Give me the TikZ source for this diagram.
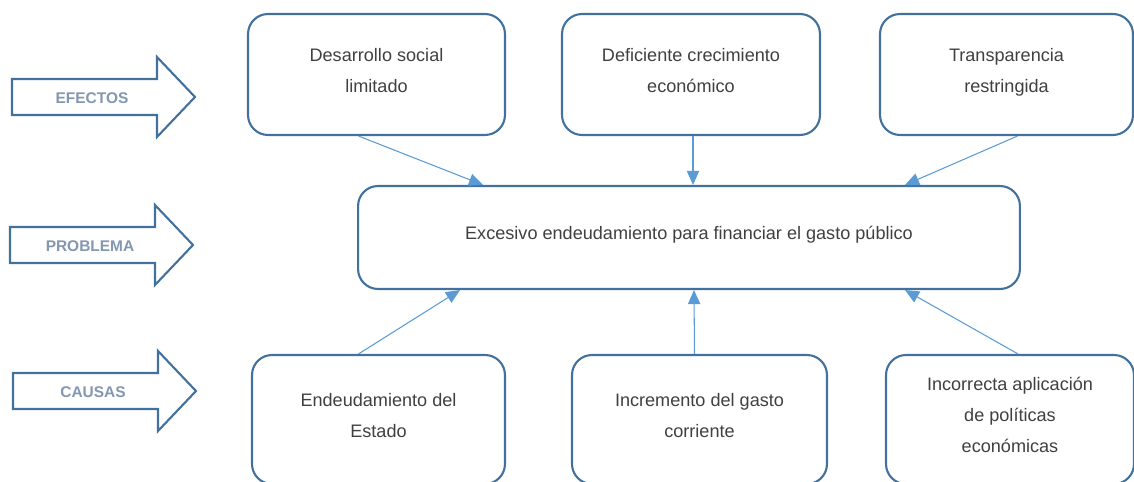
\documentclass[tikz,border=0pt]{standalone}
\usepackage{fontspec}
\setmainfont{Liberation Sans}
\usetikzlibrary{calc}
\usetikzlibrary{arrows.meta}
\definecolor{borde}{HTML}{41719C}
\definecolor{linea}{HTML}{5B9BD5}
\definecolor{texto}{HTML}{404040}
\definecolor{rotulo}{HTML}{8497B0}

\begin{document}
\begin{tikzpicture}[x=0.02cm,y=-0.02cm,
    caja/.style={draw=borde,line width=1.2pt,rounded corners=0.4cm,align=center,
      text=texto,font=\fontsize{10.3}{17.6}\selectfont,inner sep=0pt,text depth=5pt},
    conn/.style={draw=linea,line width=0.6pt,-{Triangle[length=8pt,width=7pt]}},
    flecha/.style={draw=borde,line width=1.2pt,fill=white,line join=miter},
    etiqueta/.style={text=rotulo,font=\fontsize{8.8}{10}\selectfont\bfseries}]
      \useasboundingbox (0,0) rectangle (1134,482);
      % efectos
      \node[caja,minimum width=5.14cm,minimum height=2.42cm] (efe1) at (376.5,74.5) {Desarrollo social\\limitado};
      \node[caja,minimum width=5.16cm,minimum height=2.42cm] (efe2) at (691,74.5) {Deficiente crecimiento\\econ\'omico};
      \node[caja,minimum width=5.06cm,minimum height=2.42cm] (efe3) at (1006.5,74.5) {Transparencia\\restringida};
      % problema
      \node[caja,minimum width=13.24cm,minimum height=2.06cm] (prob) at (689,237.5) {Excesivo endeudamiento para financiar el gasto p\'ublico};
      % causas
      \node[caja,minimum width=5.06cm,minimum height=2.58cm] (cau1) at (378.5,419.5) {Endeudamiento del\\Estado};
      \node[caja,minimum width=5.1cm,minimum height=2.58cm] (cau2) at (699.5,419.5) {Incremento del gasto\\corriente};
      \node[caja,minimum width=4.96cm,minimum height=2.58cm] (cau3) at (1010,419.5) {Incorrecta aplicaci\'on\\de pol\'iticas\\econ\'omicas};
      \path[conn] ($(efe1.south)+(-18,0)$) -- ($(prob.north)+(-206,0)$);
      \path[conn] ($(efe2.south)+(2,0)$) -- ($(prob.north)+(4,0)$);
      \path[conn] ($(efe3.south)+(11,0)$) -- ($(prob.north)+(216,0)$);
      \path[conn] ($(cau1.north)+(-20,0)$) -- ($(prob.south)+(-229,0)$);
      \path[conn] ($(cau2.north)+(-5,0)$) -- ($(prob.south)+(5,0)$);
      \path[conn] ($(cau3.north)+(8,0)$) -- ($(prob.south)+(216,0)$);
      % flechas de la izquierda
      \foreach \x/\y/\lbl/\n in {12/97/EFECTOS/efectos,10/245/PROBLEMA/problema,13/391/CAUSAS/causas} {
        \draw[flecha] (\x,\y-18) -- ++(145,0) -- ++(0,-22) -- ++(38,40) -- ++(-38,40) -- ++(0,-22) -- ++(-145,0) -- cycle;
        \node[etiqueta] (\n) at (\x+80,\y+1) {\lbl};
      }
    \end{tikzpicture}
\end{document}
